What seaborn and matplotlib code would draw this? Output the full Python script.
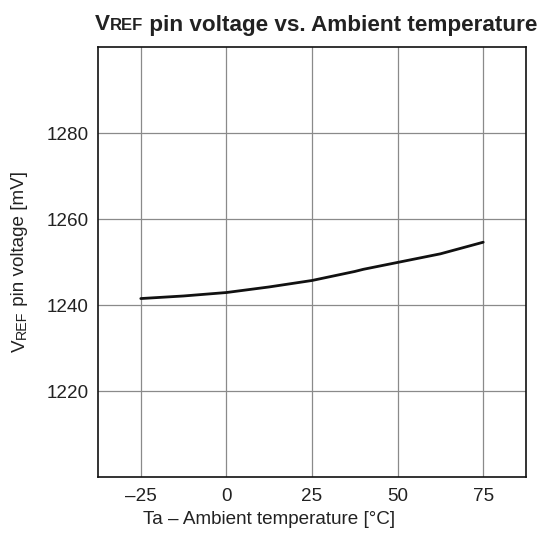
import matplotlib
matplotlib.use("Agg")
import matplotlib.pyplot as plt
import matplotlib.text as mtext
import seaborn as sns
import pandas as pd
from matplotlib.offsetbox import TextArea, HPacker, AnnotationBbox

# ---- data ----
temps = [-25, -12.5, 0, 12.5, 25, 37.5, 40, 50, 62.5, 75]
vref_mv = [1241.5, 1242.1, 1242.9, 1244.2, 1245.7, 1247.8, 1248.3, 1249.9, 1251.9, 1254.6]
x_ticks = [-25, 0, 25, 50, 75]
x_tick_labels = ["\u201325", "0", "25", "50", "75"]
y_ticks = [1220, 1240, 1260, 1280]
y_tick_labels = ["1220", "1240", "1260", "1280"]

sns.set_theme(style="white")
plt.rcParams["font.family"] = ["Liberation Sans", "DejaVu Sans"]

W, H = 544, 541
TXT = "#222222"
fig = plt.figure(figsize=(W / 100, H / 100), dpi=100)
ax = fig.add_axes([98 / W, 1 - 477 / H, (526 - 98) / W, (477 - 47) / H])

df = pd.DataFrame({"Ta": temps, "V": vref_mv})
sns.lineplot(data=df, x="Ta", y="V", ax=ax, color="#111111", linewidth=2.0)

ax.set_xlim(-37.5, 87.5)
ax.set_ylim(1200, 1300)
ax.set_xticks(x_ticks)
ax.set_xticklabels(x_tick_labels)
ax.set_yticks(y_ticks)
ax.set_yticklabels(y_tick_labels)
ax.tick_params(axis="both", length=0, labelsize=13.6, colors=TXT)
ax.tick_params(axis="x", pad=8)
ax.tick_params(axis="y", pad=7)
ax.grid(True, color="#8a8a8a", linewidth=0.9)
for s in ax.spines.values():
    s.set_color("#111111")
    s.set_linewidth(1.2)
    s.set_visible(True)
ax.set_xlabel("")
ax.set_ylabel("")

# x label
fig.text(269 / W, 1 - 520 / H, "Ta \u2013 Ambient temperature [\u00b0C]",
         ha="center", va="center", fontsize=13.6, color=TXT)

# title with small caps "REF"
tp_big = dict(fontsize=16.2, fontweight="bold", color=TXT)
tp_small = dict(fontsize=12, fontweight="bold", color=TXT)
title_box = HPacker(children=[TextArea("V", textprops=tp_big),
                              TextArea("REF", textprops=tp_small),
                              TextArea(" pin voltage vs. Ambient temperature", textprops=tp_big)],
                    align="baseline", pad=0, sep=0)
ab = AnnotationBbox(title_box, (316.5, H - 25), xycoords="figure pixels",
                    box_alignment=(0.5, 0.5), frameon=False)
fig.add_artist(ab)

# y label with small caps "REF", rotated
t1 = fig.text(20 / W, 1 - 352 / H, "V", rotation=90, ha="center", va="bottom",
              fontsize=13.6, color=TXT)
a2 = fig.add_artist(mtext.Annotation("REF", xy=(1, 1), xycoords=t1,
                                     rotation=90, ha="right", va="bottom",
                                     fontsize=10.3, color=TXT))
a3 = fig.add_artist(mtext.Annotation(" pin voltage [mV]", xy=(1, 1), xycoords=a2,
                                     rotation=90, ha="right", va="bottom",
                                     fontsize=13.6, color=TXT))

fig.savefig("out.png", dpi=100)
